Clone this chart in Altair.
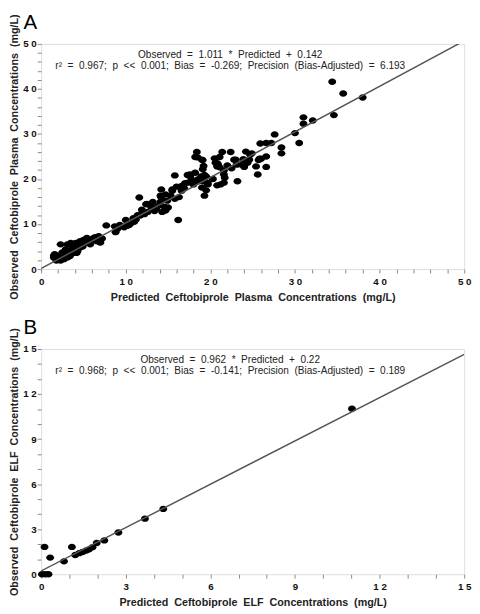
import altair as alt
import pandas as pd

# ---------------- Panel A data (plasma) ----------------
pred_a = [1.5, 1.6, 1.8, 1.5, 2.3, 2.2, 2.5, 2.3, 2.9, 3.1, 3.1, 3.5, 3.5, 3.7, 4.1, 4.3, 4.6, 4.6,
          5.2, 5.4, 5.8, 6.2, 6.6, 6.8, 6.9, 2.0, 2.7, 2.8, 3.3, 3.8, 4.0, 4.4, 4.9, 5.5, 6.0, 6.5,
          7.2, 3.0, 2.6, 3.9, 4.8, 5.0, 1.9, 3.4, 4.2, 7.0, 6.4,
          7.7, 8.7, 8.8, 9.3, 10.0, 10.6, 11.2, 10.1, 10.9, 11.4, 12.0, 12.6, 11.6, 11.9, 12.5, 13.0,
          13.2, 10.4, 11.0, 9.8, 12.2, 11.7, 9.0,
          14.2, 14.1, 14.1, 14.6, 14.3, 14.9, 15.3, 15.5, 15.8, 16.6, 16.6, 16.2, 17.3, 17.6, 18.6,
          18.9, 19.3, 19.7, 20.8, 21.6, 21.6, 20.8, 20.6, 20.5, 19.2, 19.1, 18.5, 18.4, 17.0, 17.3,
          15.0, 14.7, 13.6, 12.4, 14.7, 14.2, 15.5, 16.0, 16.9, 17.8, 18.2, 17.6, 18.5, 19.1, 19.7,
          19.0, 19.1, 19.5, 19.5, 18.0, 16.3, 15.8, 13.8, 13.4,
          21.2, 21.7, 21.6, 23.2, 20.8, 21.4, 22.4, 22.8, 23.1, 23.7, 23.9, 24.4, 24.6, 24.2, 24.9,
          25.7, 25.4, 25.6, 26.6, 26.6, 25.9, 26.6, 27.2, 27.6, 28.4, 28.4, 30.0, 30.5, 31.0, 31.0,
          32.1, 34.4, 35.7, 38.0, 34.6, 20.3, 22.5, 24.0, 24.1, 21.1, 20.9, 21.1, 18.2, 19.0, 19.3,
          18.8, 24.7, 23.0, 22.0, 26.0, 25.8]
obs_a = [2.6, 3.3, 1.9, 3.0, 1.9, 3.0, 3.7, 5.5, 4.4, 2.6, 5.5, 3.3, 5.8, 4.8, 5.8, 4.0, 4.8, 6.2,
         5.8, 6.9, 5.5, 6.9, 6.2, 7.3, 6.0, 2.4, 2.2, 3.0, 4.0, 3.6, 4.4, 5.2, 5.0, 6.2, 6.4, 6.6,
         6.8, 3.8, 2.8, 5.2, 5.6, 6.5, 2.9, 2.9, 3.6, 5.9, 7.1,
         9.7, 9.5, 8.2, 9.8, 10.9, 10.2, 11.0, 9.6, 11.3, 12.0, 12.7, 12.7, 15.9, 13.2, 14.5, 13.8,
         14.9, 9.8, 10.5, 9.3, 12.2, 11.9, 8.9,
         17.7, 16.3, 14.9, 13.8, 12.7, 15.2, 16.3, 17.4, 20.8, 18.5, 17.4, 10.9, 19.2, 21.0, 19.5,
         20.6, 16.3, 19.2, 18.6, 19.2, 21.0, 22.8, 23.6, 24.6, 22.9, 24.2, 24.8, 26.0, 19.1, 20.9,
         13.7, 13.0, 13.4, 14.4, 16.6, 15.9, 17.7, 18.3, 18.0, 19.8, 21.4, 20.6, 19.9, 19.5, 18.8,
         18.1, 22.2, 20.6, 17.5, 18.8, 16.0, 15.6, 14.0, 12.9,
         18.8, 20.3, 21.9, 19.5, 23.5, 26.0, 26.0, 24.3, 23.2, 23.2, 24.4, 23.6, 24.3, 26.1, 25.7,
         24.2, 22.8, 21.0, 25.0, 22.7, 27.9, 28.0, 28.0, 29.9, 27.0, 25.7, 30.2, 28.0, 32.3, 33.7,
         33.0, 41.6, 39.0, 38.1, 34.2, 20.0, 22.4, 22.7, 24.2, 24.9, 23.3, 22.6, 24.9, 24.3, 20.9,
         19.9, 25.4, 24.3, 23.0, 24.5, 24.5]
fit_a_x = [0, 50]
fit_a_y = [0.142, 50.692]

# ---------------- Panel B data (ELF) ----------------
pred_b = [0.03, 0.15, 0.26, 0.12, 1.09, 0.32, 0.81, 1.21, 1.35, 1.47, 1.60, 1.70, 1.82, 1.97,
          2.24, 2.74, 3.68, 4.33, 11.02]
obs_b = [0.0, 0.0, 0.0, 1.82, 1.82, 1.11, 0.86, 1.28, 1.40, 1.48, 1.58, 1.66, 1.80, 2.08,
         2.25, 2.78, 3.70, 4.35, 11.02]
fit_b_x = [0, 15]
fit_b_y = [0.22, 14.65]

S = "\u00a0 "  # wide word gap
ann_a = ["Observed\u00a0 = \u00a01.011\u00a0 * \u00a0Predicted\u00a0 + \u00a00.142",
         "r\u00b2\u00a0 = \u00a00.967;\u00a0 p\u00a0 <<\u00a0 0.001;\u00a0 Bias\u00a0 = \u00a0-0.269;\u00a0 Precision\u00a0 (Bias-Adjusted)\u00a0 = \u00a06.193"]
ann_b = ["Observed\u00a0 = \u00a00.962\u00a0 * \u00a0Predicted\u00a0 + \u00a00.22",
         "r\u00b2\u00a0 = \u00a00.968;\u00a0 p\u00a0 <<\u00a0 0.001;\u00a0 Bias\u00a0 = \u00a0-0.141;\u00a0 Precision\u00a0 (Bias-Adjusted)\u00a0 = \u00a00.189"]
xtitle_a = S.join(["Predicted", "Ceftobiprole", "Plasma", "Concentrations", "(mg/L)"])
ytitle_a = S.join(["Observed", "Ceftobiprole", "Plasma", "Concentrations", "(mg/L)"])
xtitle_b = S.join(["Predicted", "Ceftobiprole", "ELF", "Concentrations", "(mg/L)"])
ytitle_b = S.join(["Observed", "Ceftobiprole", "ELF", "Concentrations", "(mg/L)"])

FONT = "Liberation Sans"
W, H = 434, 231
ELLIPSE = "M -1 0 A 1 0.8 0 1 1 1 0 A 1 0.8 0 1 1 -1 0 Z"


def spaced_label(major):
    return (f"datum.value % {major} == 0 ? join(split(toString(datum.value), ''), ' ') : ''")


def panel(pred, obs, fx, fy, dmax, step, major, letter, xtitle, ytitle, ann):
    pts = pd.DataFrame({"x": pred, "y": obs})
    fit = pd.DataFrame({"x": fx, "y": fy})
    vals = [i * step for i in range(int(round(dmax / step)) + 1)]

    def ax(title, lpad, tpad):
        return alt.Axis(values=vals, labelExpr=spaced_label(major), title=title,
                        grid=False, domain=False, tickColor="#888888", tickSize=4,
                        labelFont=FONT, labelFontSize=10, labelFontWeight="bold",
                        labelColor="#111111", labelPadding=lpad, labelFlush=False,
                        labelOverlap=False, titlePadding=tpad,
                        titleFont=FONT, titleFontSize=11, titleFontWeight="bold",
                        titleColor="#222222")

    xs = alt.Scale(domain=[0, dmax], nice=False, zero=True)
    ys = alt.Scale(domain=[0, dmax], nice=False, zero=True)
    xenc = dict(scale=xs, axis=ax(xtitle, 4, 5))
    yenc = dict(scale=ys, axis=ax(ytitle, 1, 3))

    points = alt.Chart(pts).mark_point(shape=ELLIPSE, filled=True, color="black",
                                       opacity=1, size=66).encode(
        x=alt.X("x:Q", **xenc), y=alt.Y("y:Q", **yenc))
    line = alt.Chart(fit).mark_line(color="#555555", strokeWidth=1.5, clip=True).encode(
        x=alt.X("x:Q", **xenc), y=alt.Y("y:Q", **yenc))
    t1 = alt.Chart(pd.DataFrame({"t": [ann[0]]})).mark_text(
        font=FONT, fontSize=10.3, color="#222222", align="center", baseline="middle").encode(
        text="t:N", x=alt.value(194), y=alt.value(11))
    t2 = alt.Chart(pd.DataFrame({"t": [ann[1]]})).mark_text(
        font=FONT, fontSize=10.3, color="#222222", align="center", baseline="middle").encode(
        text="t:N", x=alt.value(194), y=alt.value(22.5))
    lab = alt.Chart(pd.DataFrame({"t": [letter]})).mark_text(
        font=FONT, fontSize=21, color="black", align="left", baseline="alphabetic").encode(
        text="t:N", x=alt.value(-18), y=alt.value(-15))
    return alt.layer(points, line, t1, t2, lab).properties(width=W, height=H)


a = panel(pred_a, obs_a, fit_a_x, fit_a_y, 50, 2, 10, "A", xtitle_a, ytitle_a, ann_a)
b = panel(pred_b, obs_b, fit_b_x, fit_b_y, 15, 1, 3, "B", xtitle_b, ytitle_b, ann_b)

chart = alt.vconcat(a, b, spacing=14).properties(
    padding={"left": 0, "top": -4, "right": 0, "bottom": 0}
).configure_view(stroke="#8a8a8a", strokeWidth=1).configure(background="white")

chart.save("out.html", embed_options={"renderer": "svg", "actions": False})
